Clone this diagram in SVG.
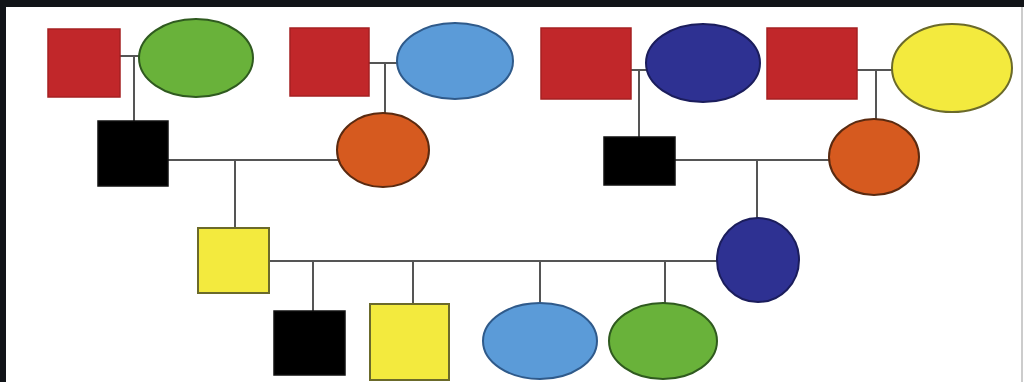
<svg xmlns="http://www.w3.org/2000/svg" width="1024" height="382" viewBox="0 0 1024 382">
<style>
.red{fill:#c1272a;stroke:#a52022;stroke-width:1.5}
.blk{fill:#000;stroke:#111;stroke-width:1.5}
.yel{fill:#f3ea3e;stroke:#6b6a2a;stroke-width:2}
.grn{fill:#69b23a;stroke:#2f5a1f;stroke-width:2}
.lbl{fill:#5b9bd8;stroke:#2f5a8a;stroke-width:2}
.dbl{fill:#2e3192;stroke:#1b1d5c;stroke-width:2}
.org{fill:#d65a1f;stroke:#5a2a10;stroke-width:2}
.con line{stroke:#555;stroke-width:2}
</style>
<rect width="1024" height="382" fill="#fff"/>
<rect x="0" y="0" width="1024" height="7" fill="#111418"/>
<rect x="0" y="0" width="6" height="382" fill="#111418"/>
<rect x="1021" y="7" width="2" height="375" fill="#ccc"/>
<g id="connectors" class="con">
<line x1="120" y1="56" x2="140" y2="56"/>
<line x1="134" y1="56" x2="134" y2="121"/>
<line x1="369" y1="63" x2="398" y2="63"/>
<line x1="385" y1="63" x2="385" y2="113"/>
<line x1="168" y1="160" x2="338" y2="160"/>
<line x1="235" y1="160" x2="235" y2="228"/>
<line x1="631" y1="70" x2="647" y2="70"/>
<line x1="639" y1="70" x2="639" y2="137"/>
<line x1="857" y1="70" x2="893" y2="70"/>
<line x1="876" y1="70" x2="876" y2="120"/>
<line x1="675" y1="160" x2="830" y2="160"/>
<line x1="757" y1="160" x2="757" y2="218"/>
<line x1="269" y1="261" x2="718" y2="261"/>
<line x1="313" y1="261" x2="313" y2="311"/>
<line x1="413" y1="261" x2="413" y2="304"/>
<line x1="540" y1="261" x2="540" y2="303"/>
<line x1="665" y1="261" x2="665" y2="303"/>
</g>
<g id="gf1"><rect class="red" x="48" y="29" width="72" height="68"/></g>
<g id="gm1"><ellipse class="grn" cx="196" cy="58" rx="57" ry="39"/></g>
<g id="gf2"><rect class="red" x="290" y="28" width="79" height="68"/></g>
<g id="gm2"><ellipse class="lbl" cx="455" cy="61" rx="58" ry="38"/></g>
<g id="gf3"><rect class="red" x="541" y="28" width="90" height="71"/></g>
<g id="gm3"><ellipse class="dbl" cx="703" cy="63" rx="57" ry="39"/></g>
<g id="gf4"><rect class="red" x="767" y="28" width="90" height="71"/></g>
<g id="gm4"><ellipse class="yel" cx="952" cy="68" rx="60" ry="44"/></g>
<g id="father"><rect class="blk" x="98" y="121" width="70" height="65"/></g>
<g id="mother"><ellipse class="org" cx="383" cy="150" rx="46" ry="37"/></g>
<g id="father2"><rect class="blk" x="604" y="137" width="71" height="48"/></g>
<g id="mother2"><ellipse class="org" cx="874" cy="157" rx="45" ry="38"/></g>
<g id="husband"><rect class="yel" x="198" y="228" width="71" height="65"/></g>
<g id="wife"><ellipse class="dbl" cx="758" cy="260" rx="41" ry="42"/></g>
<g id="child1"><rect class="blk" x="274" y="311" width="71" height="64"/></g>
<g id="child2"><rect class="yel" x="370" y="304" width="79" height="76"/></g>
<g id="child3"><ellipse class="lbl" cx="540" cy="341" rx="57" ry="38"/></g>
<g id="child4"><ellipse class="grn" cx="663" cy="341" rx="54" ry="38"/></g>
</svg>
